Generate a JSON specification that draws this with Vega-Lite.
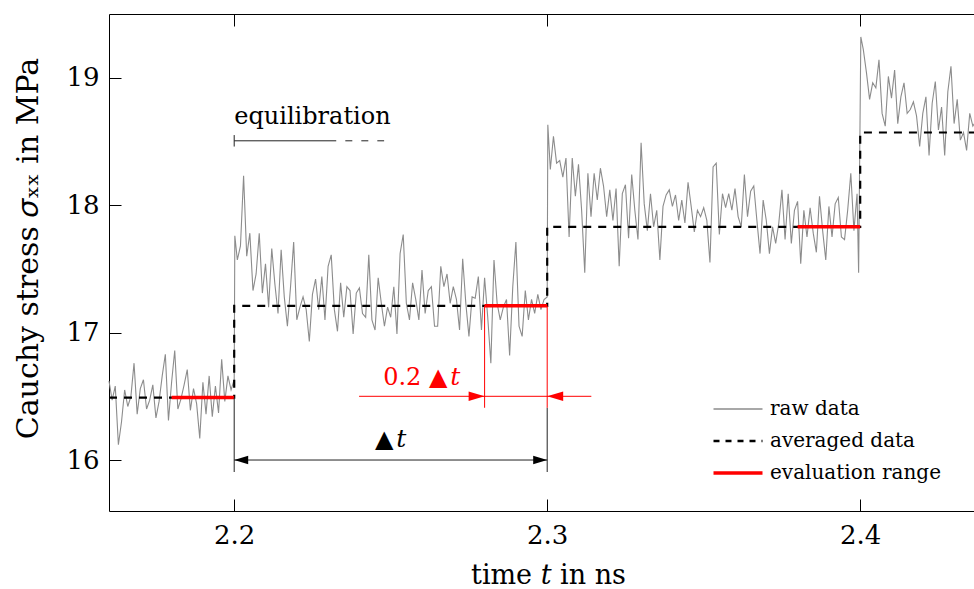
{
  "$schema": "https://vega.github.io/schema/vega-lite/v6.json",
  "width": 865,
  "height": 497,
  "autosize": {"type": "none"},
  "padding": {"left": 109, "top": 14, "right": 0, "bottom": 78},
  "background": "white",
  "view": {"stroke": null},
  "config": {
    "axis": {
      "grid": false,
      "domainColor": "#000000",
      "domainWidth": 1,
      "tickColor": "#000000",
      "tickWidth": 1,
      "tickSize": -12,
      "labelFont": "DejaVu Serif",
      "labelFontSize": 26,
      "labelFontWeight": "normal",
      "labelColor": "#000000",
      "titleFont": "DejaVu Serif",
      "titleFontSize": 27,
      "titleFontWeight": "normal",
      "titleColor": "#000000"
    }
  },
  "datasets": {
    "raw": [
      {"t":2.160,"s":16.62},{"t":2.161,"s":16.47},{"t":2.162,"s":16.58},{"t":2.163,"s":16.12},{"t":2.164,"s":16.30},
      {"t":2.165,"s":16.55},{"t":2.166,"s":16.42},{"t":2.167,"s":16.50},{"t":2.168,"s":16.76},{"t":2.169,"s":16.36},
      {"t":2.170,"s":16.56},{"t":2.171,"s":16.63},{"t":2.172,"s":16.40},{"t":2.173,"s":16.47},{"t":2.174,"s":16.59},
      {"t":2.175,"s":16.33},{"t":2.176,"s":16.46},{"t":2.177,"s":16.66},{"t":2.178,"s":16.83},{"t":2.179,"s":16.31},
      {"t":2.180,"s":16.61},{"t":2.181,"s":16.86},{"t":2.182,"s":16.40},{"t":2.183,"s":16.48},{"t":2.184,"s":16.59},
      {"t":2.185,"s":16.71},{"t":2.186,"s":16.39},{"t":2.187,"s":16.56},{"t":2.188,"s":16.44},{"t":2.189,"s":16.17},
      {"t":2.190,"s":16.61},{"t":2.191,"s":16.36},{"t":2.192,"s":16.66},{"t":2.193,"s":16.34},{"t":2.194,"s":16.58},
      {"t":2.195,"s":16.37},{"t":2.196,"s":16.79},{"t":2.197,"s":16.46},{"t":2.198,"s":16.66},{"t":2.199,"s":16.55},
      {"t":2.200,"s":16.63},
      {"t":2.2002,"s":17.76},{"t":2.201,"s":17.57},{"t":2.202,"s":17.68},{"t":2.203,"s":18.23},{"t":2.204,"s":17.60},
      {"t":2.205,"s":17.78},{"t":2.206,"s":17.33},{"t":2.207,"s":17.46},{"t":2.208,"s":17.78},{"t":2.209,"s":17.31},
      {"t":2.210,"s":17.54},{"t":2.211,"s":17.20},{"t":2.212,"s":17.66},{"t":2.213,"s":17.38},{"t":2.214,"s":17.15},
      {"t":2.215,"s":17.65},{"t":2.216,"s":17.28},{"t":2.217,"s":17.05},{"t":2.218,"s":17.36},{"t":2.219,"s":17.71},
      {"t":2.220,"s":17.10},{"t":2.221,"s":17.20},{"t":2.222,"s":17.28},{"t":2.223,"s":17.18},{"t":2.224,"s":16.93},
      {"t":2.225,"s":17.30},{"t":2.226,"s":17.42},{"t":2.227,"s":17.18},{"t":2.228,"s":17.44},{"t":2.229,"s":17.10},
      {"t":2.230,"s":17.52},{"t":2.231,"s":17.61},{"t":2.232,"s":17.18},{"t":2.233,"s":17.01},{"t":2.234,"s":17.39},
      {"t":2.235,"s":17.12},{"t":2.236,"s":17.36},{"t":2.237,"s":17.33},{"t":2.238,"s":16.99},{"t":2.239,"s":17.31},
      {"t":2.240,"s":17.35},{"t":2.241,"s":17.15},{"t":2.242,"s":17.12},{"t":2.243,"s":17.61},{"t":2.244,"s":17.10},
      {"t":2.245,"s":17.02},{"t":2.246,"s":17.43},{"t":2.247,"s":17.23},{"t":2.248,"s":17.05},{"t":2.249,"s":17.20},
      {"t":2.250,"s":17.12},{"t":2.251,"s":17.36},{"t":2.252,"s":16.99},{"t":2.253,"s":17.62},{"t":2.254,"s":17.77},
      {"t":2.255,"s":17.23},{"t":2.256,"s":17.10},{"t":2.257,"s":17.39},{"t":2.258,"s":17.26},{"t":2.259,"s":17.10},
      {"t":2.260,"s":17.49},{"t":2.261,"s":17.15},{"t":2.262,"s":17.33},{"t":2.263,"s":17.36},{"t":2.264,"s":17.05},
      {"t":2.265,"s":17.05},{"t":2.266,"s":17.52},{"t":2.267,"s":17.36},{"t":2.268,"s":17.46},{"t":2.269,"s":17.23},
      {"t":2.270,"s":17.36},{"t":2.271,"s":17.26},{"t":2.272,"s":17.02},{"t":2.273,"s":17.58},{"t":2.274,"s":17.23},
      {"t":2.275,"s":16.97},{"t":2.276,"s":17.28},{"t":2.277,"s":17.27},{"t":2.278,"s":17.44},{"t":2.279,"s":17.02},
      {"t":2.280,"s":17.43},{"t":2.281,"s":17.12},{"t":2.282,"s":16.76},{"t":2.283,"s":17.57},{"t":2.284,"s":17.23},
      {"t":2.285,"s":17.10},{"t":2.286,"s":17.20},{"t":2.287,"s":17.26},{"t":2.288,"s":16.82},{"t":2.289,"s":17.36},
      {"t":2.290,"s":17.71},{"t":2.291,"s":17.05},{"t":2.292,"s":16.97},{"t":2.293,"s":17.33},{"t":2.294,"s":17.10},
      {"t":2.295,"s":17.26},{"t":2.296,"s":17.15},{"t":2.297,"s":17.30},{"t":2.298,"s":17.18},{"t":2.299,"s":17.26},
      {"t":2.300,"s":17.28},
      {"t":2.3002,"s":18.63},{"t":2.301,"s":18.28},{"t":2.302,"s":18.54},{"t":2.303,"s":18.33},{"t":2.304,"s":18.35},
      {"t":2.305,"s":18.22},{"t":2.306,"s":18.37},{"t":2.307,"s":17.75},{"t":2.308,"s":18.37},{"t":2.309,"s":18.07},
      {"t":2.310,"s":18.32},{"t":2.311,"s":17.96},{"t":2.312,"s":17.47},{"t":2.313,"s":18.25},{"t":2.314,"s":17.91},
      {"t":2.315,"s":18.25},{"t":2.316,"s":18.04},{"t":2.317,"s":18.29},{"t":2.318,"s":18.15},{"t":2.319,"s":17.91},
      {"t":2.320,"s":18.12},{"t":2.321,"s":17.88},{"t":2.322,"s":18.13},{"t":2.323,"s":17.52},{"t":2.324,"s":18.09},
      {"t":2.325,"s":18.16},{"t":2.326,"s":17.74},{"t":2.327,"s":18.24},{"t":2.328,"s":17.96},{"t":2.329,"s":17.73},
      {"t":2.330,"s":18.49},{"t":2.331,"s":18.01},{"t":2.332,"s":17.80},{"t":2.333,"s":18.09},{"t":2.334,"s":17.83},
      {"t":2.335,"s":17.96},{"t":2.336,"s":17.57},{"t":2.337,"s":17.99},{"t":2.338,"s":18.08},{"t":2.339,"s":18.12},
      {"t":2.340,"s":17.99},{"t":2.341,"s":18.08},{"t":2.342,"s":17.88},{"t":2.343,"s":18.04},{"t":2.344,"s":17.86},
      {"t":2.345,"s":18.18},{"t":2.346,"s":17.99},{"t":2.347,"s":17.79},{"t":2.348,"s":17.96},{"t":2.349,"s":17.91},
      {"t":2.350,"s":17.98},{"t":2.351,"s":17.88},{"t":2.352,"s":17.55},{"t":2.353,"s":18.30},{"t":2.354,"s":18.33},
      {"t":2.355,"s":17.77},{"t":2.356,"s":18.09},{"t":2.357,"s":17.98},{"t":2.358,"s":18.09},{"t":2.359,"s":17.96},
      {"t":2.360,"s":18.13},{"t":2.361,"s":17.91},{"t":2.362,"s":17.83},{"t":2.363,"s":18.24},{"t":2.364,"s":17.91},
      {"t":2.365,"s":18.11},{"t":2.366,"s":18.15},{"t":2.367,"s":17.88},{"t":2.368,"s":17.62},{"t":2.369,"s":18.04},
      {"t":2.370,"s":17.88},{"t":2.371,"s":17.62},{"t":2.372,"s":17.83},{"t":2.373,"s":17.70},{"t":2.374,"s":17.86},
      {"t":2.375,"s":18.12},{"t":2.376,"s":17.73},{"t":2.377,"s":18.09},{"t":2.378,"s":17.70},{"t":2.379,"s":17.96},
      {"t":2.380,"s":18.03},{"t":2.381,"s":17.54},{"t":2.382,"s":17.96},{"t":2.383,"s":17.75},{"t":2.384,"s":17.98},
      {"t":2.385,"s":17.78},{"t":2.386,"s":17.63},{"t":2.387,"s":18.07},{"t":2.388,"s":17.80},{"t":2.389,"s":17.57},
      {"t":2.390,"s":17.99},{"t":2.391,"s":17.75},{"t":2.392,"s":18.01},{"t":2.393,"s":18.06},{"t":2.394,"s":17.75},
      {"t":2.395,"s":17.73},{"t":2.396,"s":17.96},{"t":2.397,"s":18.25},{"t":2.398,"s":17.80},{"t":2.399,"s":18.09},
      {"t":2.3995,"s":17.47},
      {"t":2.4002,"s":19.32},{"t":2.401,"s":19.22},{"t":2.402,"s":19.04},{"t":2.403,"s":18.83},{"t":2.404,"s":18.96},
      {"t":2.405,"s":18.92},{"t":2.406,"s":19.14},{"t":2.407,"s":18.72},{"t":2.408,"s":18.62},{"t":2.409,"s":19.01},
      {"t":2.410,"s":18.84},{"t":2.411,"s":19.06},{"t":2.412,"s":18.64},{"t":2.413,"s":18.85},{"t":2.414,"s":18.96},
      {"t":2.415,"s":18.72},{"t":2.416,"s":18.75},{"t":2.417,"s":18.81},{"t":2.418,"s":18.70},{"t":2.419,"s":18.46},
      {"t":2.420,"s":18.72},{"t":2.421,"s":18.85},{"t":2.422,"s":18.39},{"t":2.423,"s":18.80},{"t":2.424,"s":18.97},
      {"t":2.425,"s":18.59},{"t":2.426,"s":18.77},{"t":2.427,"s":18.39},{"t":2.428,"s":18.89},{"t":2.429,"s":19.09},
      {"t":2.430,"s":18.64},{"t":2.431,"s":18.83},{"t":2.432,"s":18.51},{"t":2.433,"s":18.57},{"t":2.434,"s":18.43},
      {"t":2.435,"s":18.72},{"t":2.436,"s":18.62},{"t":2.437,"s":18.66}
    ],
    "avg": [
      {"i":1,"t":2.16,"s":16.49},{"i":2,"t":2.2,"s":16.49},{"i":3,"t":2.2,"s":17.21},{"i":4,"t":2.3,"s":17.21},
      {"i":5,"t":2.3,"s":17.83},{"i":6,"t":2.4,"s":17.83},{"i":7,"t":2.4,"s":18.57},{"i":8,"t":2.44,"s":18.57}
    ],
    "evalRange": [
      {"t":2.18,"t2":2.2,"s":16.49},{"t":2.28,"t2":2.3,"s":17.21},{"t":2.38,"t2":2.4,"s":17.83}
    ],
    "dimBlack": [
      {"t":2.2,"t2":2.2,"s":15.906,"s2":16.49},
      {"t":2.3,"t2":2.3,"s":15.906,"s2":16.41},
      {"t":2.2,"t2":2.3,"s":16.0,"s2":16.0},
      {"t":2.2,"t2":2.2326,"s":18.505,"s2":18.505},
      {"t":2.2,"t2":2.2,"s":18.46,"s2":18.55}
    ],
    "dimDashed": [
      {"t":2.2355,"t2":2.2479,"s":18.505}
    ],
    "dimRed": [
      {"t":2.28,"t2":2.28,"s":16.41,"s2":17.21},
      {"t":2.3,"t2":2.3,"s":16.41,"s2":17.21},
      {"t":2.2399,"t2":2.3141,"s":16.50,"s2":16.50}
    ],
    "arrowBlack": [
      {"t":2.2,"s":16.0,"dir":"left"},{"t":2.3,"s":16.0,"dir":"right"}
    ],
    "arrowRed": [
      {"t":2.28,"s":16.50,"dir":"right"},{"t":2.3,"s":16.50,"dir":"left"}
    ],
    "textBlack": [
      {"t":2.2,"s":18.637,"label":"equilibration"},
      {"t":2.2450,"s":16.10,"label":"▲"}
    ],
    "textBlackItalic": [
      {"t":2.2518,"s":16.10,"label":"t"}
    ],
    "textRed": [
      {"t":2.2476,"s":16.589,"label":"0.2 ▲"}
    ],
    "textRedItalic": [
      {"t":2.2690,"s":16.589,"label":"t"}
    ]
  },
  "encoding": {
    "y": {
      "field": "s", "type": "quantitative",
      "scale": {"domain": [15.6, 19.5], "nice": false, "zero": false},
      "axis": {"values": [16, 17, 18, 19], "format": "d", "labelPadding": 22, "title": "Cauchy stress 𝜎ₓₓ in MPa", "titleFontSize": 30, "titlePadding": 22, "titleY": 234}
    }
  },
  "layer": [
    {
      "data": {"name": "raw"},
      "mark": {"type": "line", "strokeWidth": 1.1},
      "encoding": {
        "x": {
          "field": "t", "type": "quantitative",
          "scale": {"domain": [2.16, 2.43636], "nice": false, "zero": false},
          "axis": {"orient": "bottom", "values": [2.2, 2.3, 2.4], "format": ".1f", "labelPadding": 23, "title": "time 𝑡 in ns", "titlePadding": 14, "titleX": 439}
        },
        "color": {
          "datum": "raw data", "type": "nominal",
          "scale": {"domain": ["raw data", "averaged data", "evaluation range"], "range": ["#8c8c8c", "#000000", "#ff0000"]},
          "legend": {
            "orient": "none", "legendX": 619, "legendY": 385, "title": null,
            "symbolType": "stroke", "symbolSize": 2401, "symbolStrokeWidth": 1.5,
            "rowPadding": 12, "padding": 0, "labelLimit": 400,
            "labelFont": "DejaVu Serif", "labelFontSize": 20, "labelOffset": 22, "labelColor": "#000000",
            "encode": {
              "symbols": {
                "update": {
                  "strokeDash": {"signal": "datum.value == 'averaged data' ? [6, 6] : [1, 0]"},
                  "strokeWidth": {"signal": "datum.value == 'evaluation range' ? 3.5 : datum.value == 'averaged data' ? 2.5 : 1.5"}
                }
              }
            }
          }
        }
      }
    },
    {
      "data": {"name": "avg"},
      "mark": {"type": "line", "strokeWidth": 2.2, "strokeDash": [8, 7]},
      "encoding": {
        "x": {"field": "t", "type": "quantitative", "axis": {"orient": "top", "values": [2.2, 2.3, 2.4], "labels": false, "title": null}},
        "order": {"field": "i", "type": "quantitative"},
        "color": {"datum": "averaged data", "type": "nominal"}
      }
    },
    {
      "data": {"name": "evalRange"},
      "mark": {"type": "rule", "strokeWidth": 3.5},
      "encoding": {
        "x": {"field": "t", "type": "quantitative", "axis": null},
        "x2": {"field": "t2"},
        "color": {"datum": "evaluation range", "type": "nominal"}
      }
    },
    {
      "data": {"name": "dimBlack"},
      "mark": {"type": "rule", "color": "#222222", "strokeWidth": 1},
      "encoding": {"x": {"field": "t", "type": "quantitative", "axis": null}, "x2": {"field": "t2"}, "y2": {"field": "s2"}}
    },
    {
      "data": {"name": "dimDashed"},
      "mark": {"type": "rule", "color": "#222222", "strokeWidth": 1, "strokeDash": [7, 9]},
      "encoding": {"x": {"field": "t", "type": "quantitative", "axis": null}, "x2": {"field": "t2"}}
    },
    {
      "data": {"name": "dimRed"},
      "mark": {"type": "rule", "color": "#ff0000", "strokeWidth": 1},
      "encoding": {"x": {"field": "t", "type": "quantitative", "axis": null}, "x2": {"field": "t2"}, "y2": {"field": "s2"}}
    },
    {
      "data": {"name": "arrowBlack"},
      "mark": {"type": "point", "filled": true, "color": "#000000", "size": 784, "opacity": 1},
      "encoding": {
        "x": {"field": "t", "type": "quantitative", "axis": null},
        "shape": {"field": "dir", "type": "nominal", "scale": {"domain": ["right", "left"], "range": ["M0,0L-1,-0.3L-1,0.3Z", "M0,0L1,-0.3L1,0.3Z"]}, "legend": null}
      }
    },
    {
      "data": {"name": "arrowRed"},
      "mark": {"type": "point", "filled": true, "color": "#ff0000", "size": 1024, "opacity": 1},
      "encoding": {
        "x": {"field": "t", "type": "quantitative", "axis": null},
        "shape": {"field": "dir", "type": "nominal", "legend": null}
      }
    },
    {
      "data": {"name": "textBlack"},
      "mark": {"type": "text", "align": "left", "baseline": "alphabetic", "font": "DejaVu Serif", "fontSize": 24, "color": "#000000"},
      "encoding": {"x": {"field": "t", "type": "quantitative", "axis": null}, "text": {"field": "label"}}
    },
    {
      "data": {"name": "textBlackItalic"},
      "mark": {"type": "text", "align": "left", "baseline": "alphabetic", "font": "DejaVu Serif", "fontSize": 25, "fontStyle": "italic", "color": "#000000"},
      "encoding": {"x": {"field": "t", "type": "quantitative", "axis": null}, "text": {"field": "label"}}
    },
    {
      "data": {"name": "textRed"},
      "mark": {"type": "text", "align": "left", "baseline": "alphabetic", "font": "DejaVu Serif", "fontSize": 24, "color": "#ff0000"},
      "encoding": {"x": {"field": "t", "type": "quantitative", "axis": null}, "text": {"field": "label"}}
    },
    {
      "data": {"name": "textRedItalic"},
      "mark": {"type": "text", "align": "left", "baseline": "alphabetic", "font": "DejaVu Serif", "fontSize": 25, "fontStyle": "italic", "color": "#ff0000"},
      "encoding": {"x": {"field": "t", "type": "quantitative", "axis": null}, "text": {"field": "label"}}
    }
  ]
}
